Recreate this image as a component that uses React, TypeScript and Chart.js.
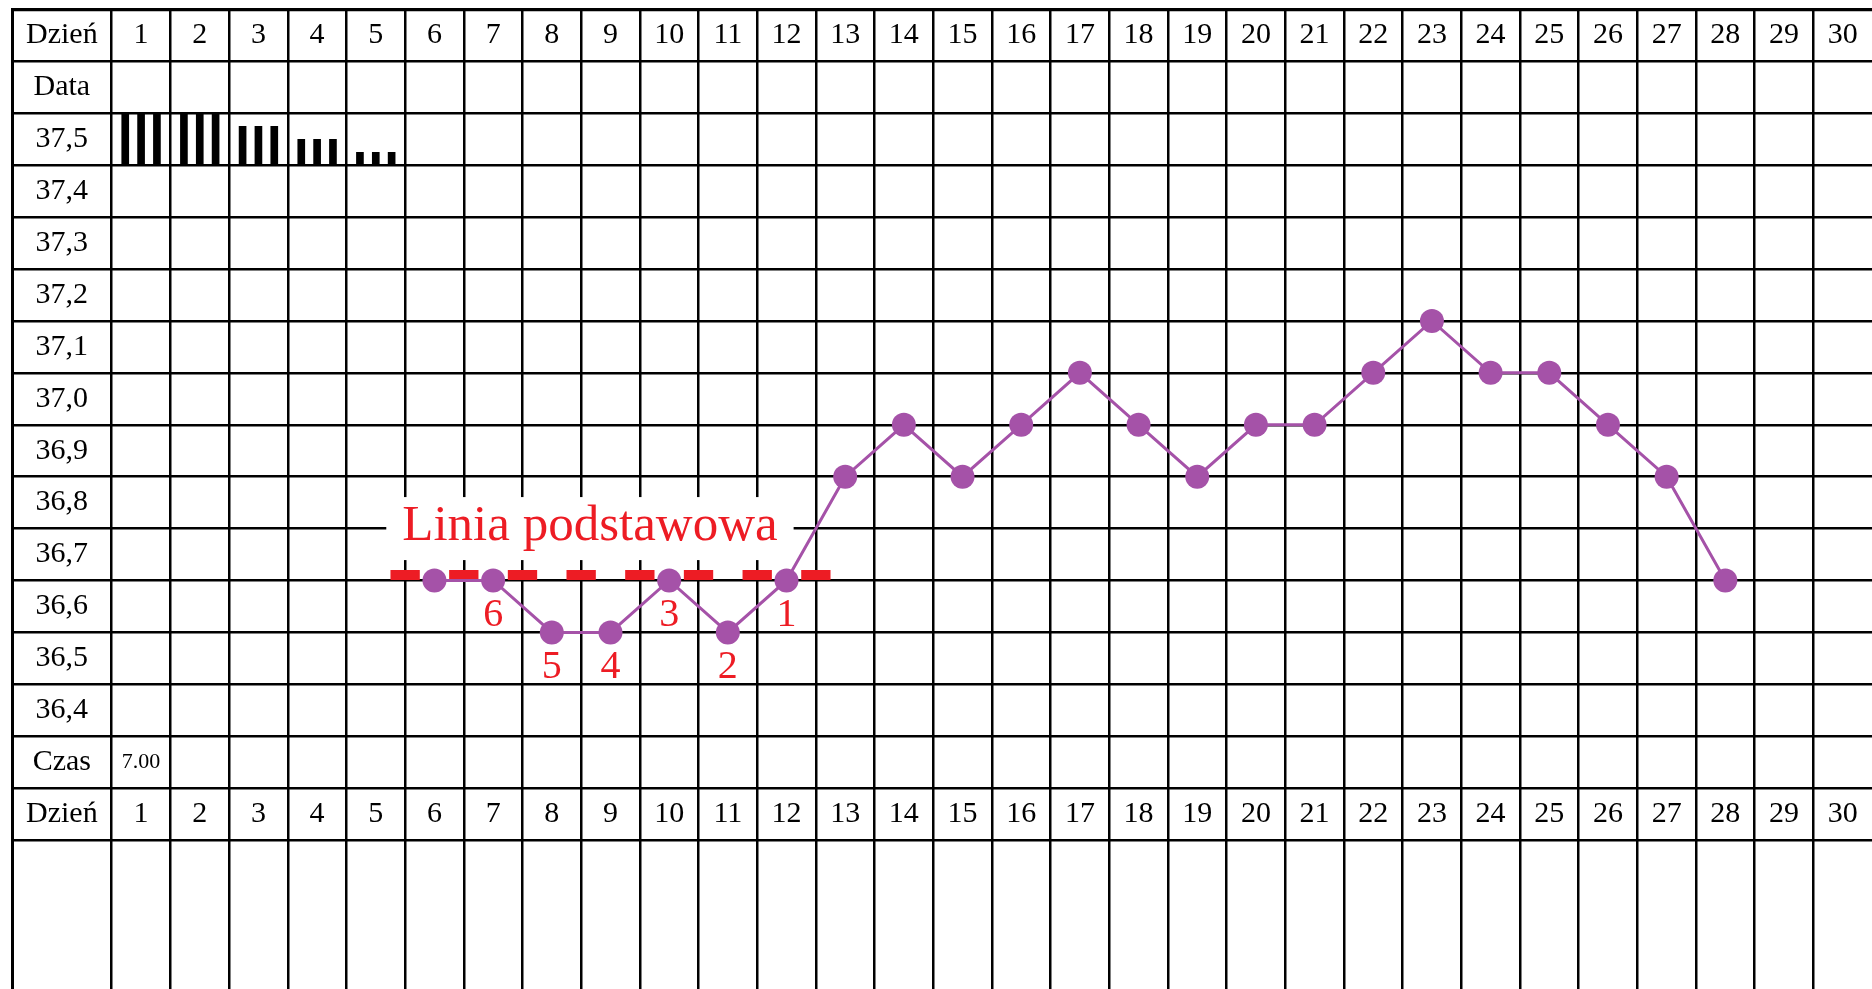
import React, { useEffect, useRef } from "react";
import { Chart, registerables } from "chart.js";

Chart.register(...registerables);

// ---------------- data ----------------
const days = [1, 2, 3, 4, 5, 6, 7, 8, 9, 10, 11, 12, 13, 14, 15, 16, 17, 18, 19, 20, 21, 22, 23, 24, 25, 26, 27, 28, 29, 30];
const dayLabels = ["1", "2", "3", "4", "5", "6", "7", "8", "9", "10", "11", "12", "13", "14", "15", "16", "17", "18", "19", "20", "21", "22", "23", "24", "25", "26", "27", "28", "29", "30"];

const temperatureRows = [37.5, 37.4, 37.3, 37.2, 37.1, 37.0, 36.9, 36.8, 36.7, 36.6, 36.5, 36.4];
const topRowTitles = ["Dzień", "Data"];
const bottomRowTitles = ["Czas", "Dzień"];

const temperatureDays = [6, 7, 8, 9, 10, 11, 12, 13, 14, 15, 16, 17, 18, 19, 20, 21, 22, 23, 24, 25, 26, 27, 28];
const temperatures = [36.7, 36.7, 36.6, 36.6, 36.7, 36.6, 36.7, 36.9, 37.0, 36.9, 37.0, 37.1, 37.0, 36.9, 37.0, 37.0, 37.1, 37.2, 37.1, 37.1, 37.0, 36.9, 36.7];

const bleedingDays = [1, 2, 3, 4, 5];
const bleedingLevels = [4, 4, 3, 2, 1]; // out of 4

const timeDays = [1];
const timeLabels = ["7.00"];

const baselineTemp = 36.7;
const baselineDays = [6, 12];
const baselineTitle = "Linia podstawowa";

const countDays = [12, 11, 10, 9, 8, 7];
const countLabels = ["1", "2", "3", "4", "5", "6"];

// ---------------- layout / style ----------------
const W = 1872;
const H = 989;
const FONT = "'Liberation Serif', 'Times New Roman', serif";
const PURPLE = "#a552a8";
const RED = "#ed1c24";
const ROW = 0.1;
const BLEED_MAX = 4;
const X_MIN = -1.2;
const X_MAX = 30.5;
const Y_MAX = 37.8;
const Y_MIN = 35.913;
const ROW_COUNT = topRowTitles.length + temperatureRows.length + bottomRowTitles.length;
const TITLE_DAY = 8.65;
const TITLE_TEMP = 36.8;

const fmt = (t: number) => t.toFixed(1).replace(".", ",");

const tableTextPlugin = {
  id: "tableText",
  beforeDatasetsDraw(chart: any) {
    const { ctx } = chart;
    const x = chart.scales.x;
    const y = chart.scales.y;
    const rowCenter = (i: number) => y.getPixelForValue(Y_MAX - (i + 0.5) * ROW);
    ctx.save();
    ctx.textAlign = "center";
    ctx.textBaseline = "middle";
    ctx.fillStyle = "#000";
    ctx.font = `30px ${FONT}`;
    const labelColX = (x.getPixelForValue(X_MIN) + x.getPixelForValue(0.5)) / 2;
    const titles = [...topRowTitles, ...temperatureRows.map(fmt), ...bottomRowTitles];
    titles.forEach((t, i) => ctx.fillText(t, labelColX, rowCenter(i)));
    days.forEach((d, i) => {
      const px = x.getPixelForValue(d);
      ctx.fillText(dayLabels[i], px, rowCenter(0));
      ctx.fillText(dayLabels[i], px, rowCenter(ROW_COUNT - 1));
    });
    ctx.font = `22px ${FONT}`;
    timeDays.forEach((d, i) => ctx.fillText(timeLabels[i], x.getPixelForValue(d), rowCenter(ROW_COUNT - 2)));

    // baseline title with white box
    ctx.font = `51px ${FONT}`;
    const tw = ctx.measureText(baselineTitle).width;
    const cx = x.getPixelForValue(TITLE_DAY);
    const cy = y.getPixelForValue(TITLE_TEMP);
    ctx.fillStyle = "#fff";
    ctx.fillRect(cx - tw / 2 - 16, cy - 31.5, tw + 32, 63);
    ctx.fillStyle = RED;
    ctx.fillText(baselineTitle, cx, cy - 2);

    // counting labels below low temperatures
    ctx.font = `40px ${FONT}`;
    countDays.forEach((d, i) => {
      const t = temperatures[temperatureDays.indexOf(d)];
      ctx.fillText(countLabels[i], x.getPixelForValue(d), y.getPixelForValue(t) + 35);
    });
    ctx.restore();
  },
  beforeDatasetDraw(chart: any, args: any) {
    if (args.meta.label === "baseline") {
      chart.ctx.save();
      chart.ctx.translate(0, -5.5);
    }
  },
  afterDatasetDraw(chart: any, args: any) {
    if (args.meta.label === "baseline") {
      chart.ctx.restore();
    }
  },
};

export default function App() {
  const canvasRef = useRef<HTMLCanvasElement | null>(null);

  useEffect(() => {
    const canvas = canvasRef.current;
    if (!canvas) return;

    const bleedingBars: any[] = [];
    bleedingDays.forEach((d, i) => {
      [-0.27, 0, 0.27].forEach((off) => {
        bleedingBars.push({ x: d + off, y: [temperatureRows[0], temperatureRows[0] + (bleedingLevels[i] / BLEED_MAX) * ROW] });
      });
    });

    const yLines: number[] = [];
    for (let i = ROW_COUNT; i >= 0; i--) yLines.push(Y_MAX - i * ROW);
    const xLines: number[] = days.map((d) => d - 0.5);

    const chart = new Chart(canvas, {
      type: "line",
      data: {
        datasets: [
          {
            label: "temperature",
            data: temperatureDays.map((d, i) => ({ x: d, y: temperatures[i] })),
            borderColor: PURPLE,
            backgroundColor: PURPLE,
            borderWidth: 3,
            pointRadius: 12,
            pointBackgroundColor: PURPLE,
            pointBorderWidth: 0,
            tension: 0,
            order: 0,
          },
          {
            label: "baseline",
            data: [
              { x: baselineDays[0] - 0.75, y: baselineTemp },
              { x: baselineDays[1] + 0.75, y: baselineTemp },
            ],
            borderColor: RED,
            borderWidth: 10,
            borderDash: [29.34, 29.34],
            borderCapStyle: "butt",
            pointRadius: 0,
            order: 1,
          },
          {
            type: "bar",
            label: "bleeding",
            data: bleedingBars,
            backgroundColor: "#000",
            borderWidth: 0,
            barThickness: 7,
            grouped: false,
            order: 2,
          } as any,
        ],
      },
      options: {
        responsive: false,
        animation: false,
        devicePixelRatio: 1,
        events: [],
        layout: { autoPadding: false, padding: { left: 12, top: 9.5, right: 0, bottom: 0 } },
        plugins: { legend: { display: false }, tooltip: { enabled: false }, title: { display: false } },
        scales: {
          x: {
            type: "linear",
            min: X_MIN,
            max: X_MAX,
            offset: false,
            afterBuildTicks: (scale: any) => {
              scale.ticks = xLines.map((v) => ({ value: v }));
            },
            ticks: { display: false },
            grid: { color: "#000", lineWidth: 2.5, drawTicks: false, offset: false },
            border: { display: false },
          },
          y: {
            type: "linear",
            min: Y_MIN,
            max: Y_MAX,
            beginAtZero: false,
            afterBuildTicks: (scale: any) => {
              scale.ticks = yLines.map((v) => ({ value: v }));
            },
            ticks: { display: false },
            grid: {
              color: "#000",
              lineWidth: (c: any) => (c.tick && Math.abs(c.tick.value - Y_MAX) < 1e-6 ? 3.2 : 2.5),
              drawTicks: false,
              offset: false,
            },
            border: { display: true, color: "#000", width: 3 },
          },
        },
      } as any,
      plugins: [tableTextPlugin],
    });

    return () => chart.destroy();
  }, []);

  return (
    <div style={{ position: "fixed", left: 0, top: 0, width: W, height: H, background: "#fff" }}>
      <canvas ref={canvasRef} width={W} height={H} style={{ width: W, height: H, display: "block" }} />
    </div>
  );
}
